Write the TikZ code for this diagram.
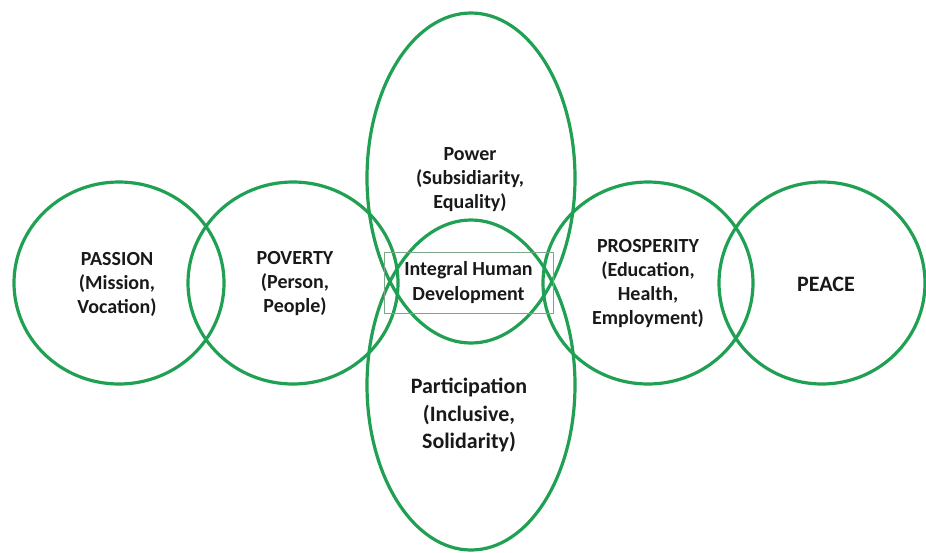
\documentclass[tikz,border=0pt]{standalone}
\usepackage{fontspec}
\setmainfont{Carlito}
\usetikzlibrary{shapes.geometric}
\definecolor{ringgreen}{RGB}{32,160,82}
\definecolor{boxline}{RGB}{125,165,135}
\definecolor{inktext}{RGB}{25,25,25}
\tikzset{
	ring/.style={ellipse,draw=ringgreen,line width=3.2pt,inner sep=0pt},
	tag/.style={align=center,text=inktext,inner sep=0pt,font=\bfseries\fontsize{20}{24}\selectfont}
}
\begin{document}
\begin{tikzpicture}[x=1pt,y=-1pt]
		\useasboundingbox (0,0) rectangle (926,552);
		\node[ring,minimum width=210,minimum height=202] (passion) at (119,283) {};
		\node[ring,minimum width=210,minimum height=202] (poverty) at (293,283) {};
		\node[ring,minimum width=208,minimum height=330] (power) at (471,178) {};
		\node[ring,minimum width=208,minimum height=330] (participation) at (471,385) {};
		\node[ring,minimum width=210,minimum height=202] (prosperity) at (648,283) {};
		\node[ring,minimum width=206,minimum height=202] (peace) at (822,283) {};
		\node[tag] (passiontext) at (117,284) {PASSION\\(Mission,\\Vocation)};
		\node[tag] (povertytext) at (295,284) {POVERTY\\(Person,\\People)};
		\node[tag] (powertext) at (470,180) {Power\\(Subsidiarity,\\Equality)};
		\node[tag,font=\bfseries\fontsize{22}{27.5}\selectfont] (participationtext) at (469,415) {Participation\\(Inclusive,\\Solidarity)};
		\node[tag] (prosperitytext) at (648,284) {PROSPERITY\\(Education,\\Health,\\Employment)};
		\node[tag,font=\bfseries\fontsize{22}{26}\selectfont] (peacetext) at (826,284) {PEACE};
		\node[tag,draw=boxline,line width=0.8pt,minimum width=169,minimum height=61,font=\bfseries\fontsize{20}{24.5}\selectfont] (core) at (468.5,282.5) {Integral Human\\Development};
	\end{tikzpicture}
\end{document}
